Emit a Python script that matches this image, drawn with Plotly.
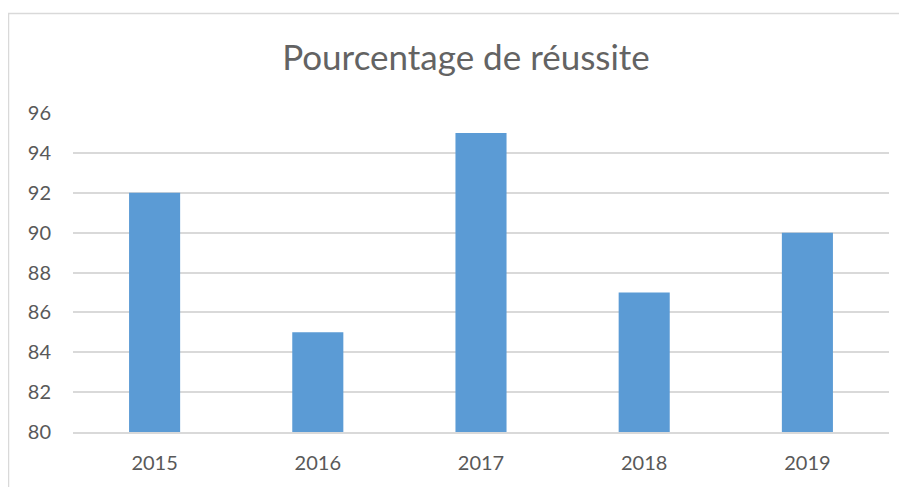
import plotly.graph_objects as go

years = ["2015", "2016", "2017", "2018", "2019"]
taux = [92, 85, 95, 87, 90]
y_ticks = [80, 82, 84, 86, 88, 90, 92, 94, 96]

OFF = 8  # page body margin
W, H = 907 - OFF, 487 - OFF
L, R, T, B = 73 - OFF, 18, 113 - OFF, 55

fig = go.Figure(go.Bar(x=years, y=taux, marker=dict(color="#5B9BD5", line=dict(width=0)),
                       width=0.313))

pw = W - L - R
ph = H - T - B
def px_x(p):
    return (p - OFF - L) / pw
def px_y(p):
    return (H - B - (p - OFF)) / ph

fig.update_layout(
    width=W, height=H,
    margin=dict(l=L, r=R, t=T, b=B),
    paper_bgcolor="white", plot_bgcolor="white",
    font=dict(family="Lato, Carlito, Calibri, sans-serif", color="#595959", size=20),
    title=dict(text="Pourcentage de réussite", x=(466 - OFF) / W, xanchor="center",
               y=1 - (58 - OFF) / H, yanchor="middle", font=dict(size=35, color="#636363")),
    xaxis=dict(showgrid=False, showline=True, linecolor="#D9D9D9", linewidth=1.5,
               ticks="", ticklabelstandoff=12, tickfont=dict(size=20)),
    yaxis=dict(range=[80, 96], tickvals=y_ticks, showgrid=True, gridcolor="#D9D9D9",
               gridwidth=1.5, zeroline=False, showline=False, ticks="",
               ticklabelstandoff=21, tickfont=dict(size=20)),
    bargap=0.687,
    showlegend=False,
    shapes=[dict(type="rect", xref="paper", yref="paper",
                 x0=px_x(8.5), x1=px_x(906), y0=px_y(13.5), y1=px_y(500),
                 line=dict(color="#D9D9D9", width=1.5), fillcolor="rgba(0,0,0,0)")],
)

fig.write_html("out.html")
